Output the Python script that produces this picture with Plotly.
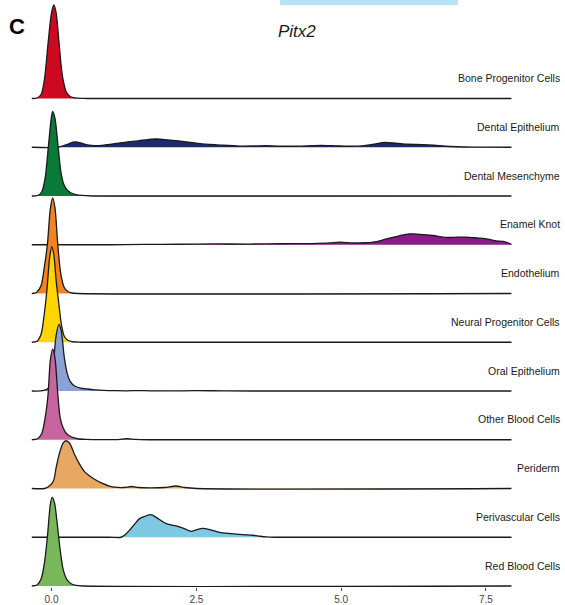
import plotly.graph_objects as go

# Pitx2 expression density per cell type (ridgeline), top row first.
categories = [
    "Bone Progenitor Cells", "Dental Epithelium", "Dental Mesenchyme",
    "Enamel Knot", "Endothelium", "Neural Progenitor Cells",
    "Oral Epithelium", "Other Blood Cells", "Periderm",
    "Perivascular Cells", "Red Blood Cells",
]
colors = [
    "#CE0A22", "#1E2A6E", "#0A7A38", "#8C1A8C", "#F5821F", "#FFD500",
    "#8CA1D6", "#C7649F", "#E6A862", "#7FC8E2", "#79B85A",
]

# Expression (x) and density height (y) samples for each cell type
bone_progenitor_x = [-0.34, -0.25, -0.18, -0.12, -0.06, 0.0, 0.04, 0.08, 0.13, 0.19, 0.26, 0.34, 0.45, 0.6, 7.94]
bone_progenitor_y = [0, 0.5, 4, 20, 55, 86, 94, 86, 56, 22, 6, 1.5, 0.3, 0, 0]

dental_epithelium_x = [-0.34, 0.1, 0.2, 0.3, 0.4, 0.5, 0.62, 0.75, 0.95, 1.2, 1.5, 1.8, 2.0, 2.26, 2.6,
                       2.95, 3.25, 3.5, 3.7, 3.9, 4.15, 4.4, 4.65, 4.9, 5.15, 5.4, 5.6, 5.75, 5.95,
                       6.15, 6.4, 6.6, 6.8, 7.0, 7.3, 7.94]
dental_epithelium_y = [0, 0, 1.5, 3.5, 5.3, 4.5, 2.3, 1.5, 2.5, 4.5, 6.5, 8.3, 7.5, 6, 3.3,
                       2, 1.2, 1.3, 1.6, 1.2, 1.0, 1.3, 1.8, 1.4, 1.0, 1.6, 3.5, 4.8, 4.0,
                       3.0, 2.6, 2.0, 1.0, 0.5, 0.2, 0]

dental_mesenchyme_x = [-0.34, -0.24, -0.17, -0.11, -0.05, 0.0, 0.02, 0.06, 0.11, 0.16, 0.21, 0.27, 0.34, 0.42, 0.52, 0.7, 7.94]
dental_mesenchyme_y = [0, 0.5, 4, 18, 52, 80, 85, 78, 52, 25, 12, 6, 3, 1.5, 0.6, 0, 0]

enamel_knot_x = [-0.34, 1.0, 1.6, 2.2, 2.8, 3.4, 4.0, 4.5, 4.8, 4.97, 5.2, 5.4, 5.55, 5.7, 5.84, 6.0,
                 6.18, 6.35, 6.58, 6.82, 7.0, 7.16, 7.35, 7.5, 7.68, 7.8, 7.94]
enamel_knot_y = [0, 0, 0.3, 0.5, 0.8, 0.7, 1.0, 1.2, 1.8, 2.7, 1.8, 2.0, 2.7, 4.5, 6.7, 9,
                 11, 10.5, 9.3, 7.3, 7.6, 7.7, 6.8, 6, 4, 3.3, 0.5]

endothelium_x = [-0.34, -0.26, -0.18, -0.12, -0.07, -0.02, 0.02, 0.06, 0.11, 0.16, 0.22, 0.28, 0.35, 0.45, 7.94]
endothelium_y = [0, 1, 8, 28, 50, 85, 96, 86, 48, 20, 6, 2, 0.5, 0, 0]

neural_progenitor_x = [-0.34, -0.25, -0.18, -0.13, -0.08, -0.03, 0.005, 0.04, 0.08, 0.12, 0.17, 0.22, 0.28, 0.36, 0.5, 7.94]
neural_progenitor_y = [0, 1, 8, 26, 52, 86, 96, 88, 62, 42, 18, 6, 2, 0.5, 0, 0]

oral_epithelium_x = [-0.34, -0.15, -0.05, 0.0, 0.04, 0.08, 0.13, 0.17, 0.22, 0.27, 0.32, 0.4, 0.5, 0.62,
                     0.75, 0.9, 1.1, 1.3, 1.5, 1.7, 2.0, 2.5, 3.0, 3.5, 7.94]
oral_epithelium_y = [0, 0.3, 3, 12, 32, 56, 67, 60, 34, 18, 10, 5, 3, 2,
                     1.2, 0.6, 0.3, 0.2, 0.4, 0.2, 0.1, 0.3, 0.2, 0, 0]

other_blood_x = [-0.34, -0.24, -0.17, -0.11, -0.06, -0.02, 0.02, 0.06, 0.11, 0.15, 0.2, 0.26, 0.34,
                 0.45, 0.6, 0.9, 1.15, 1.3, 1.45, 1.7, 7.94]
other_blood_y = [0, 1, 6, 22, 45, 80, 91, 82, 45, 22, 12, 6, 3,
                 1, 0.3, 0.1, 0.2, 1.0, 0.3, 0, 0]

periderm_x = [-0.34, -0.12, -0.06, 0.03, 0.08, 0.14, 0.2, 0.25, 0.31, 0.4, 0.48, 0.57, 0.75, 0.86,
              1.0, 1.09, 1.25, 1.38, 1.5, 1.7, 1.95, 2.15, 2.3, 2.5, 7.94]
periderm_y = [0, 0, 1.5, 7, 21, 36, 45.7, 48, 45.7, 34, 25, 17, 9, 5.7,
              2.5, 1.3, 1.0, 2.0, 1.0, 0.6, 1.0, 2.5, 1.0, 0, 0]

perivascular_x = [-0.34, 1.0, 1.2, 1.27, 1.35, 1.44, 1.52, 1.61, 1.72, 1.84, 1.98, 2.18, 2.3, 2.41, 2.5,
                  2.61, 2.75, 2.9, 3.1, 3.3, 3.48, 3.6, 3.71, 3.85, 7.94]
perivascular_y = [0, 0, 0, 2.5, 7.3, 13.5, 18.7, 21, 22.7, 18.7, 13.7, 11, 8.5, 6, 7.5,
                  9, 7.5, 5, 3.7, 2.7, 2, 1, 0.3, 0, 0]

red_blood_x = [-0.34, -0.25, -0.18, -0.12, -0.07, -0.02, 0.01, 0.05, 0.1, 0.15, 0.2, 0.26, 0.33, 0.42, 0.55, 7.94]
red_blood_y = [0, 1, 7, 24, 50, 82, 89, 84, 62, 36, 17, 7, 2.5, 0.6, 0, 0]

series_x = [bone_progenitor_x, dental_epithelium_x, dental_mesenchyme_x, enamel_knot_x,
            endothelium_x, neural_progenitor_x, oral_epithelium_x, other_blood_x,
            periderm_x, perivascular_x, red_blood_x]
series_y = [bone_progenitor_y, dental_epithelium_y, dental_mesenchyme_y, enamel_knot_y,
            endothelium_y, neural_progenitor_y, oral_epithelium_y, other_blood_y,
            periderm_y, perivascular_y, red_blood_y]

tick_values = [0, 2.5, 5.0, 7.5]
tick_labels = ["0.0", "2.5", "5.0", "7.5"]

ROW_SCALE = 1 / 49.0  # density height -> row units
X_START, X_END = -0.34, 7.94
n = len(categories)

fig = go.Figure()
annotations = []
for i, (cat, col, xs, ys) in enumerate(zip(categories, colors, series_x, series_y)):
    base = n - 1 - i
    # invisible baseline the ridge fills down to
    fig.add_trace(go.Scatter(
        x=[X_START, X_END], y=[base, base], mode="lines",
        line=dict(width=0, color="rgba(0,0,0,0)"), hoverinfo="skip", showlegend=False,
    ))
    fig.add_trace(go.Scatter(
        x=xs, y=[base + v * ROW_SCALE for v in ys], mode="lines",
        line=dict(color="#1a1a1a", width=1.3, shape="spline", smoothing=0.8),
        fill="tonexty", fillcolor=col, name=cat, showlegend=False,
    ))
    annotations.append(dict(
        x=0.9947, xref="paper", y=base + 0.42, yref="y", text=cat,
        showarrow=False, xanchor="right", yanchor="middle",
        font=dict(family="Liberation Sans, Arial, sans-serif", size=10.5, color="#1a1a1a"),
    ))

annotations.append(dict(
    x=297 / 565, xref="paper", y=1 - 32 / 590, yref="paper", text="<i>Pitx2</i>",
    showarrow=False, xanchor="center", yanchor="middle",
    font=dict(family="Liberation Sans, Arial, sans-serif", size=17, color="#1a1a1a"),
))
annotations.append(dict(
    x=17 / 565, xref="paper", y=1 - 27 / 590, yref="paper", text="<b>C</b>",
    showarrow=False, xanchor="center", yanchor="middle",
    font=dict(family="Liberation Sans, Arial, sans-serif", size=22, color="#000000"),
))

fig.update_layout(
    width=565, height=605,
    margin=dict(l=0, r=0, t=0, b=15),
    paper_bgcolor="white", plot_bgcolor="white",
    annotations=annotations,
    shapes=[dict(type="rect", xref="paper", yref="paper",
                 x0=280 / 565, x1=458 / 565, y0=1 - 5 / 590, y1=1.03,
                 fillcolor="#B6E1F6", line=dict(width=0), layer="above")],
    xaxis=dict(range=[-0.889, 8.864], showgrid=False, zeroline=False, showline=False,
               tickvals=tick_values, ticktext=tick_labels, ticks="outside", ticklen=3,
               tickwidth=1, tickcolor="#444",
               tickfont=dict(family="Liberation Sans, Arial, sans-serif", size=10, color="#444")),
    yaxis=dict(range=[-0.0204, 12.0204], showgrid=False, zeroline=False, showline=False,
               showticklabels=False, ticks=""),
)

fig.write_html("out.html")
